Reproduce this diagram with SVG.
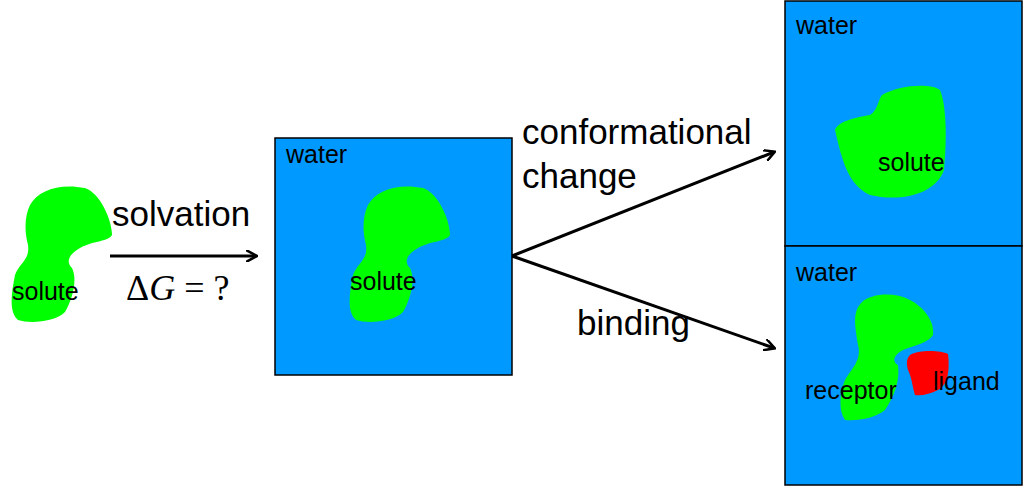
<svg xmlns="http://www.w3.org/2000/svg" width="1024" height="486" viewBox="0 0 1024 486">
<style>
text{font-family:"Liberation Sans",Arial,sans-serif;fill:#000}
.s{font-size:25px}
.b{font-size:35px}
.box{fill:#0099ff;stroke:#000;stroke-width:1.5}
.blob{fill:#00ff00}
.conn{stroke:#000;stroke-width:3;fill:none;marker-end:url(#ah)}
</style>
<defs>
<marker id="ah" markerWidth="12" markerHeight="12" refX="10" refY="6" orient="auto" markerUnits="userSpaceOnUse">
<path d="M0,0 L11,6 L0,12" fill="none" stroke="#000" stroke-width="2.5"/>
</marker>
<path id="sol" d="M30,205 C38,190 60,183 85,188 C100,193 112,220 112,235 C108,242 95,240 80,248 C68,255 66,262 72,268 C78,280 72,300 65,312 C55,322 30,324 18,320 C8,312 12,290 15,275 C20,262 30,260 28,245 C24,230 25,215 30,205 Z"/>
</defs>
<rect width="1024" height="486" fill="#fff"/>
<g id="solute-free">
<use href="#sol" class="blob"/>
<text x="12" y="300" class="s">solute</text>
</g>
<g id="solvated">
<rect class="box" x="275" y="138" width="237" height="237"/>
<use href="#sol" class="blob" transform="translate(338,0)"/>
<text x="286" y="163" class="s">water</text>
<text x="350" y="290" class="s">solute</text>
</g>
<g id="conformational">
<rect class="box" x="785" y="1" width="237" height="245"/>
<path class="blob" d="M882,95 C900,85 930,83 940,90 C948,110 946,150 944,170 C935,195 900,202 870,195 C848,185 842,160 835,130 C838,122 852,118 870,115 C878,110 878,100 882,95 Z"/>
<text x="796" y="34" class="s">water</text>
<text x="878" y="171" class="s">solute</text>
</g>
<g id="binding">
<rect class="box" x="785" y="246" width="237" height="239"/>
<path class="blob" d="M862,302 C872,293 895,292 910,300 C922,306 935,320 933,335 C928,343 915,345 903,350 C893,355 892,362 898,365 C900,380 895,395 885,410 C875,418 860,421 845,420 C838,410 840,392 845,380 C852,368 862,360 858,345 C855,325 852,312 862,302 Z"/>
<path d="M910,355 C918,350 940,350 948,354 C950,370 948,385 938,390 C930,394 922,396 915,395 C912,385 912,378 908,370 C906,362 907,358 910,355 Z" fill="#ff0000"/>
<text x="796" y="281" class="s">water</text>
<text x="805" y="399" class="s">receptor</text>
<text x="933" y="390" class="s">ligand</text>
</g>
<g id="connectors">
<path class="conn" d="M110,256 L256,256"/>
<path class="conn" d="M512,256 L774,152"/>
<path class="conn" d="M512,256 L774,348"/>
</g>
<g id="labels">
<text x="112" y="226" class="b">solvation</text>
<text x="126" y="300" font-size="36" style="font-family:'Liberation Serif',serif">Δ<tspan font-style="italic">G</tspan> = ?</text>
<text x="522" y="144" class="b">conformational</text>
<text x="522" y="188" class="b">change</text>
<text x="577" y="335" class="b">binding</text>
</g>
</svg>
